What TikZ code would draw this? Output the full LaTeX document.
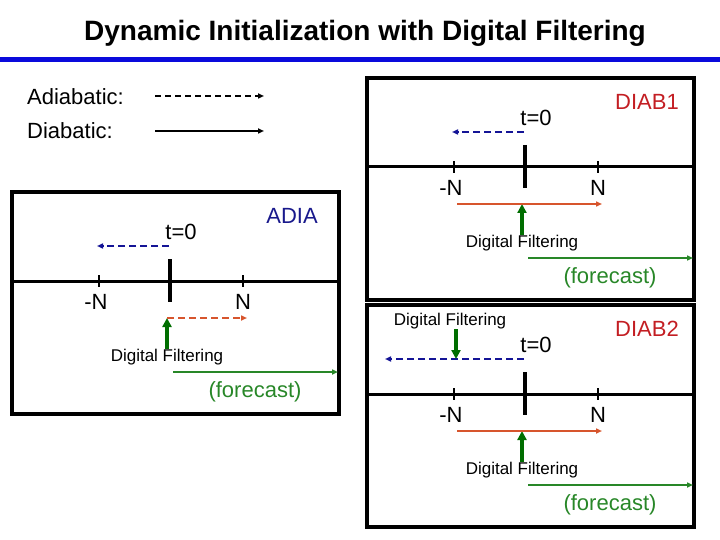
\documentclass[tikz,border=0pt]{standalone}
\usepackage{fontspec}
\setmainfont{Liberation Sans}
\usetikzlibrary{arrows.meta}

\definecolor{azullinea}{RGB}{10,10,220}
\definecolor{azuladia}{RGB}{25,25,140}
\definecolor{azulflecha}{RGB}{20,20,150}
\definecolor{rojodiab}{RGB}{195,30,35}
\definecolor{naranja}{RGB}{215,85,45}
\definecolor{verde}{RGB}{40,135,40}
\definecolor{verdeosc}{RGB}{0,110,0}

\tikzset{
  caja/.style={line width=3.5pt},
  eje/.style={line width=3pt},
  marca/.style={line width=2pt},
  marcagrande/.style={line width=3.5pt},
  texto/.style={inner sep=0pt, font=\fontsize{22}{24}\selectfont},
  textochico/.style={inner sep=0pt, font=\fontsize{17}{19}\selectfont},
  punta/.style={-{Triangle[length=6pt,width=5pt]}},
  atras/.style={punta, line width=2pt, dash pattern=on 7pt off 4pt, azulflecha},
  adelante/.style={punta, line width=2pt, naranja},
  filtro/.style={-{Triangle[length=9pt,width=9pt]}, line width=4pt, verdeosc},
  pronostico/.style={punta, line width=2pt, verde}
}

\begin{document}
\begin{tikzpicture}[x=1pt, y=-1pt]
\useasboundingbox (0,0) rectangle (720,540);

% Titulo
\node[font=\fontsize{28}{30}\selectfont\bfseries] (titulo) at (365,33)
  {Dynamic Initialization with Digital Filtering};
\coordinate (lineaizq) at (0,60);
\coordinate (lineader) at (720,60);
\draw[line width=5pt, azullinea] (lineaizq) -- (lineader);

% Leyenda
\node[texto, anchor=west] (adiab) at (27,97) {Adiabatic:};
\node[texto, anchor=west] (diab) at (27,131) {Diabatic:};
\coordinate (adi1) at (155,96);  \coordinate (adi2) at (264,96);
\coordinate (dia1) at (155,131); \coordinate (dia2) at (264,131);
\draw[punta, line width=2.5pt, dash pattern=on 6pt off 4pt] (adi1) -- (adi2);
\draw[punta, line width=2.5pt] (dia1) -- (dia2);

% Paneles: ADIA, DIAB1, DIAB2
\foreach \p/\etiq/\col/\ox/\oy in {a/ADIA/azuladia/12/192, d1/DIAB1/rojodiab/367/78, d2/DIAB2/rojodiab/367/305}{
  \begin{scope}[shift={(\ox,\oy)}]
    \draw[caja] (0,0) rectangle (327,222);
    \coordinate (\p-izq) at (0,89);
    \coordinate (\p-der) at (327,89);
    \draw[eje] (\p-izq) -- (\p-der);
    \draw[marcagrande] (158,67) -- (158,110);
    \draw[marca] (87,83) -- (87,95);
    \draw[marca] (231,83) -- (231,95);
    \node[texto] (\p-menosN) at (84,110) {-N};
    \node[texto] (\p-masN) at (231,110) {N};
    \node[texto] (\p-cero) at (169,40) {t=0};
    \node[texto, text=\col] (\p-nombre) at (280,24) {\etiq};
    % integracion hacia atras
    \coordinate (\p-atras1) at (157,54);
    \coordinate (\p-atras2) at (85,54);
    % integracion hacia adelante y filtro
    \coordinate (\p-adel1) at (90,126);
    \coordinate (\p-adel2) at (235,126);
    \coordinate (\p-filt) at (155,126);
    \node[textochico] (\p-df) at (155,165) {Digital Filtering};
    \draw[filtro] (\p-df.north -| \p-filt) -- (\p-filt);
    % pronostico
    \coordinate (\p-pron1) at (161,180);
    \coordinate (\p-pron2) at (326,180);
    \draw[pronostico] (\p-pron1) -- (\p-pron2);
    \node[texto, text=verde] (\p-forecast) at (243,200) {(forecast)};
  \end{scope}
}

% ADIA: solo adiabatico
\draw[atras] (a-atras1) -- (a-atras2);
\draw[punta, line width=2pt, naranja, dash pattern=on 7pt off 4pt] (a-filt) -- (a-adel2);

% DIAB1
\draw[atras] (d1-atras1) -- (d1-atras2);
\draw[adelante] (d1-adel1) -- (d1-adel2);

% DIAB2: filtro sobre la integracion hacia atras
\coordinate (d2-atras3) at (385,359);
\draw[atras] (d2-atras1) -- (d2-atras3);
\node[textochico] (d2-df2) at (450,321) {Digital Filtering};
\coordinate (d2-filt2) at (456,359);
\draw[filtro] (d2-df2.south -| d2-filt2) -- (d2-filt2);
\draw[adelante] (d2-adel1) -- (d2-adel2);

\end{tikzpicture}
\end{document}
